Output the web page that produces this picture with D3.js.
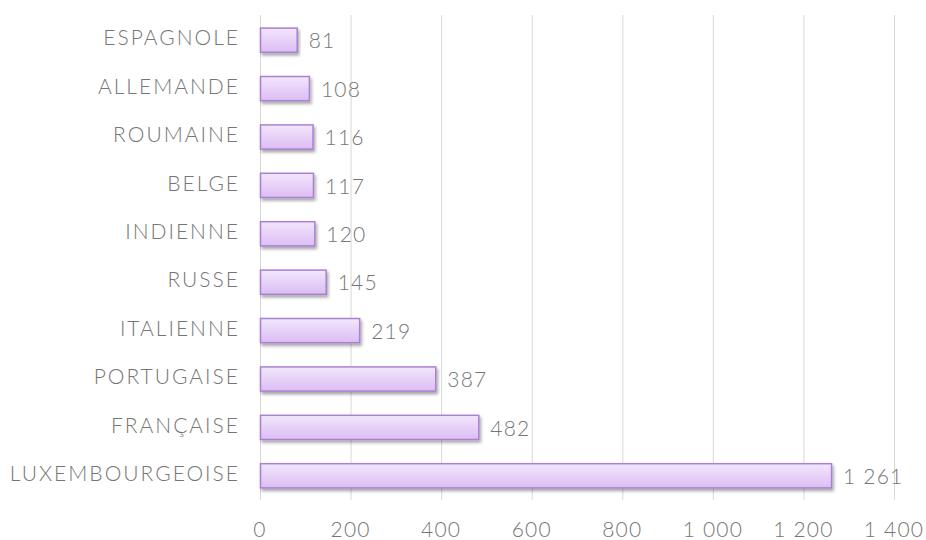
<!DOCTYPE html>
<html>
<head>
<meta charset="utf-8">
<script src="https://cdn.jsdelivr.net/npm/d3@7"></script>
<style>
  body { margin: 0; background: #fff; }
  text { font-family: "Lato", "DejaVu Sans", sans-serif; font-weight: 300; fill: #767676; }
</style>
</head>
<body>
<div id="chart"></div>
<script>
// categories top to bottom
const nationalities = ["ESPAGNOLE", "ALLEMANDE", "ROUMAINE", "BELGE", "INDIENNE", "RUSSE", "ITALIENNE", "PORTUGAISE", "FRANÇAISE", "LUXEMBOURGEOISE"];
const counts = [81, 108, 116, 117, 120, 145, 219, 387, 482, 1261];
const xTicks = [0, 200, 400, 600, 800, 1000, 1200, 1400];

const width = 926, height = 540;
const margin = { top: 16, right: 32, bottom: 40, left: 260 };

const svg = d3.select("#chart").append("svg")
    .attr("width", width)
    .attr("height", height);

const defs = svg.append("defs");
const grad = defs.append("linearGradient")
    .attr("id", "barFill")
    .attr("x1", 0).attr("y1", 0).attr("x2", 0).attr("y2", 1);
grad.append("stop").attr("offset", "0%").attr("stop-color", "#f3e6fd");
grad.append("stop").attr("offset", "100%").attr("stop-color", "#dcbdf3");

const shadow = defs.append("filter").attr("id", "shadow")
    .attr("x", "-5%").attr("y", "-30%").attr("width", "115%").attr("height", "180%");
shadow.append("feDropShadow")
    .attr("dx", 1.5).attr("dy", 2.5).attr("stdDeviation", 1.5)
    .attr("flood-color", "#000").attr("flood-opacity", 0.35);

const x = d3.scaleLinear()
    .domain([0, 1400])
    .range([margin.left, width - margin.right]);

const y = d3.scaleBand()
    .domain(nationalities)
    .range([margin.top, height - margin.bottom])
    .paddingInner(0.5)
    .paddingOuter(0.25);

const fmt = v => d3.format(",")(v).replace(/,/g, " ");

// vertical gridlines
svg.append("g")
    .selectAll("line")
    .data(xTicks)
    .join("line")
    .attr("x1", d => x(d) + 0.5)
    .attr("x2", d => x(d) + 0.5)
    .attr("y1", margin.top - 1)
    .attr("y2", height - margin.bottom)
    .attr("stroke", "#d9d9d9")
    .attr("stroke-width", 1);

// x tick labels
svg.append("g")
    .selectAll("text")
    .data(xTicks)
    .join("text")
    .attr("x", d => x(d))
    .attr("y", 532)
    .attr("text-anchor", "middle")
    .attr("dominant-baseline", "middle")
    .attr("font-size", 21)
    .attr("letter-spacing", 1.2)
    .text(fmt);

// bars
svg.append("g")
    .selectAll("rect")
    .data(nationalities)
    .join("rect")
    .attr("x", x(0) + 0.5)
    .attr("y", d => y(d))
    .attr("width", (d, i) => x(counts[i]) - x(0))
    .attr("height", y.bandwidth())
    .attr("fill", "url(#barFill)")
    .attr("stroke", "#a981d2")
    .attr("stroke-width", 1.5)
    .attr("filter", "url(#shadow)");

// value labels
svg.append("g")
    .selectAll("text")
    .data(nationalities)
    .join("text")
    .attr("x", (d, i) => x(counts[i]) + 12)
    .attr("y", d => y(d) + y.bandwidth() / 2 + 3)
    .attr("dominant-baseline", "middle")
    .attr("font-size", 21)
    .attr("letter-spacing", 1.2)
    .text((d, i) => fmt(counts[i]));

// category labels
svg.append("g")
    .selectAll("text")
    .data(nationalities)
    .join("text")
    .attr("x", margin.left - 20)
    .attr("y", d => y(d) + y.bandwidth() / 2)
    .attr("text-anchor", "end")
    .attr("dominant-baseline", "middle")
    .attr("font-size", 21)
    .attr("letter-spacing", 2)
    .text(d => d);
</script>
</body>
</html>
